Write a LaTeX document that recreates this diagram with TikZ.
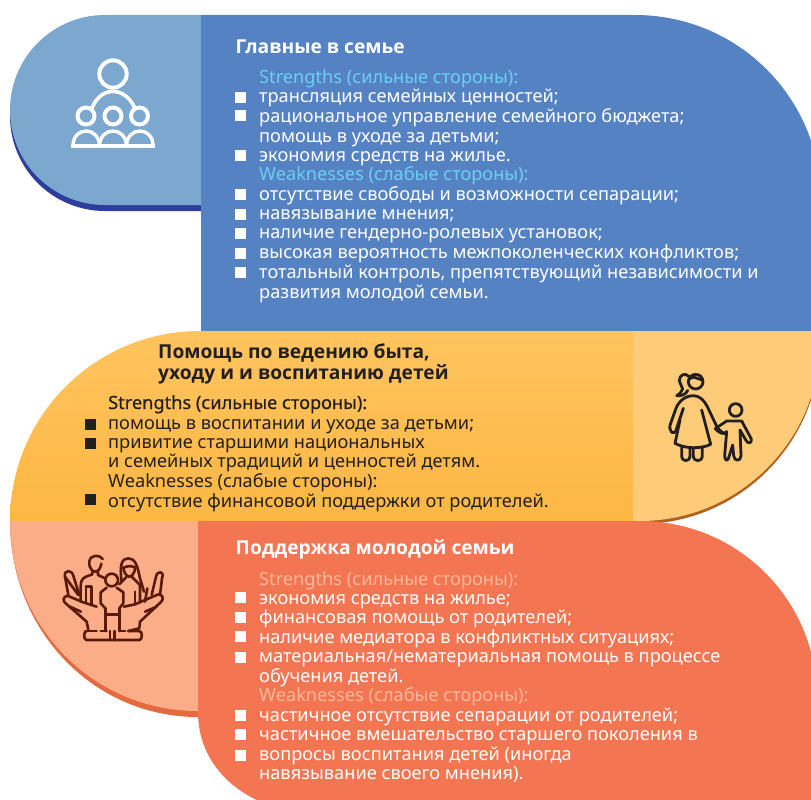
\documentclass[tikz,border=0pt]{standalone}
\usepackage{fontspec}
\setmainfont{Noto Sans}
\newfontfamily\ttlfont{Open Sans}
\newfontfamily\medfont[FakeBold=0.5]{Noto Sans}
\definecolor{blueL}{HTML}{7CA7CF}
\definecolor{blueD}{HTML}{5482C3}
\definecolor{blueS}{HTML}{2E3D9C}
\definecolor{blueT}{HTML}{6CCFF2}
\definecolor{orT}{HTML}{FFC45F}
\definecolor{orB}{HTML}{FDB743}
\definecolor{orL}{HTML}{FECC79}
\definecolor{orS}{HTML}{B0601F}
\definecolor{redD}{HTML}{F47552}
\definecolor{redL}{HTML}{FAAD87}
\definecolor{redS}{HTML}{E56A40}
\definecolor{redT}{HTML}{FBB89A}
\definecolor{ink}{HTML}{231F20}
\definecolor{brownI}{HTML}{5A1A0A}
\tikzset{
 txt/.style={anchor=base west,inner sep=0pt,font=\fontsize{18.2}{20}\selectfont},
 ttl/.style={anchor=base west,inner sep=0pt,font=\ttlfont\fontsize{19.2}{21}\selectfont\bfseries},
 bul/.style={inner sep=0pt,minimum size=11pt,fill=#1,draw=none},
 ico/.style={line cap=round,line join=round,fill=none},
}
\begin{document}
\begin{tikzpicture}[x=1pt,y=-1pt]
\useasboundingbox (0,0) rectangle (811,800);
\clip (0,0) rectangle (811,800);
% blue band
\fill[blueS] (201,211) -- (105,211) .. controls (52.5,211) and (10,168.5) .. (10,116) -- (201,116) -- cycle;
\fill[blueL] (201,15) -- (105,15) .. controls (52.5,15) and (10,57.5) .. (10,110) .. controls (10,162.5) and (52.5,205) .. (105,205) -- (201,205) -- cycle;
\fill[blueD] (201,15) -- (635,15) .. controls (738,15) and (821,98) .. (821,201) -- (821,331) -- (201,331) -- cycle;
% orange band
\fill[orS] (633,334) -- (820,334) -- (820,344) .. controls (820,443) and (739,524) .. (640,524) -- (633,524) -- cycle;
\shade[top color=orT,bottom color=orB] (10,521) .. controls (10,416) and (95,331) .. (200,331) -- (633,331) -- (633,521) -- cycle;
\fill[orL] (633,331) -- (820,331) -- (820,341) .. controls (820,440) and (739,521) .. (640,521) -- (633,521) -- cycle;
% red band
\fill[redS] (10,521) .. controls (10,630) and (93,717) .. (198,717) -- (198,521) -- cycle;
\fill[redL] (10,521) .. controls (10,626) and (93,711) .. (198,711) -- (198,521) -- cycle;
\fill[redD] (198,521) -- (640,521) .. controls (738,521) and (817,600) .. (817,698) -- (817,810) -- (285,810) .. controls (232,797) and (198,760) .. (198,712) -- cycle;
% group icon
\begin{scope}[ico,draw=white,line width=4pt]
\draw (113,74) circle[radius=13.7];
\draw[line width=3.6pt] (92,108) .. controls (97,96) and (105,91.5) .. (113,91.5) .. controls (121,91.5) and (129,96) .. (135,108);
\draw (86,116) circle[radius=8.5];
\draw (113,116) circle[radius=8.5];
\draw (139.5,116) circle[radius=8.5];
\draw[line width=3.4pt,line cap=butt] (71,146) -- (155,146);
\draw[line width=3.4pt] (73,146) .. controls (73,126) and (99,126) .. (99.5,146);
\draw[line width=3.4pt] (99.5,146) .. controls (100,126) and (126,126) .. (126.5,146);
\draw[line width=3.4pt] (126.5,146) .. controls (127,126) and (153,126) .. (153,146);
\end{scope}
% mother and child icon
\begin{scope}[shift={(660,365)},x=1/3*1pt,y=-1/3*1pt,ico,draw=ink,line width=2.8pt]
\draw (107,50) circle[radius=22];
\draw (88,42) .. controls (100,30) and (112,42) .. (127,45);
\draw (88,35) .. controls (75,22) and (58,28) .. (58,48) .. controls (58,58) and (68,62) .. (68,72) .. controls (66,82) and (56,88) .. (50,92) .. controls (62,93) and (78,90) .. (83,76);
\draw (35,202) .. controls (28,195) and (28,185) .. (32,175) -- (48,130) .. controls (60,100) and (85,92) .. (100,92) .. controls (118,92) and (132,105) .. (142,125) -- (172,188) .. controls (178,196) and (185,200) .. (192,206);
\draw (35,202) .. controls (44,205) and (48,200) .. (50,190) -- (70,130);
\draw (60,165) -- (45,235) .. controls (75,252) and (125,252) .. (152,238) -- (125,135);
\draw (65,248) -- (65,272) .. controls (65,292) and (90,292) .. (90,272) -- (90,250);
\draw (100,250) -- (100,272) .. controls (100,292) and (127,292) .. (127,272) -- (127,248);
\draw (227,135) circle[radius=19];
\draw (170,188) -- (200,168) -- (245,168) -- (274,222) .. controls (276,235) and (264,238) .. (258,226) -- (240,195) -- (243,272) .. controls (243,290) and (222,290) .. (221,272) -- (218,240) -- (208,272) .. controls (205,290) and (194,290) .. (194,272) -- (200,200) .. controls (190,210) and (178,205) .. (165,190);
\end{scope}
% family in hands icon
\begin{scope}[shift={(60,545)},x=1/3*1pt,y=-1/3*1pt,ico,draw=brownI,line width=2.6pt]
\draw (128,42) .. controls (120,28) and (90,28) .. (88,50) .. controls (86,72) and (100,80) .. (106,80) .. controls (116,80) and (122,68) .. (124,56);
\draw (97,80) -- (97,88) -- (78,95) .. controls (66,100) and (62,110) .. (62,125) -- (62,170);
\draw (114,80) -- (114,90) -- (135,100);
\draw (78,125) -- (95,125) -- (95,178);
\draw (78,125) -- (78,170);
\draw (55,150) -- (15,95) .. controls (10,75) and (35,72) .. (40,92) -- (58,150);
\draw (15,95) -- (25,150);
\draw (155,105) circle[radius=19];
\draw (140,128) -- (122,142) -- (122,175) -- (136,190);
\draw (170,128) -- (190,142) -- (190,175) -- (178,190);
\draw (136,190) -- (136,258);
\draw (178,190) -- (178,258);
\draw (136,208) -- (178,208);
\draw (150,258) -- (150,285);
\draw (164,258) -- (164,285);
\draw (122,258) -- (140,258);
\draw (178,258) -- (196,258);
\draw (76,258) -- (110,258);
\draw (185,110) .. controls (178,60) and (185,40) .. (205,40) .. controls (225,40) and (232,60) .. (240,100) -- (252,140);
\draw (190,68) .. controls (205,62) and (215,62) .. (226,68);
\draw (190,68) .. controls (192,88) and (204,95) .. (208,95) .. controls (212,95) and (224,88) .. (226,68);
\draw (200,95) -- (178,118);
\draw (215,95) -- (240,120) -- (240,170);
\draw (225,140) -- (225,178);
\draw (275,150) -- (288,95) .. controls (292,75) and (315,78) .. (306,100) -- (300,150);
\draw (262,130) -- (255,170);
\draw (192,185) -- (225,178) -- (295,148) .. controls (310,148) and (312,165) .. (302,172) -- (240,230) -- (238,250) -- (205,258);
\draw (110,185) -- (70,172) -- (22,152) .. controls (8,155) and (8,170) .. (18,176) -- (80,230) -- (85,255);
\draw (30,185) -- (63,200);
\draw (290,185) -- (255,200);
\draw (80,258) .. controls (70,258) and (70,285) .. (80,285) -- (238,285) .. controls (248,285) and (248,258) .. (238,258) -- (205,258);
\end{scope}
% blue text
\node[ttl,white] (t1) at (235.5,53) {Главные в семье};
\node[txt,blueT] (a0) at (259,83) {Strengths (сильные стороны):};
\node[txt,white] (a1) at (259,102) {трансляция семейных ценностей;};
\node[txt,white] (a2) at (259,122) {рациональное управление семейного бюджета;};
\node[txt,white] (a3) at (259,142) {помощь в уходе за детьми;};
\node[txt,white] (a4) at (259,161) {экономия средств на жилье.};
\node[txt,blueT] (a5) at (259,180) {Weaknesses (слабые стороны):};
\node[txt,white] (a6) at (259,200) {отсутствие свободы и возможности сепарации;};
\node[txt,white] (a7) at (259,219) {навязывание мнения;};
\node[txt,white] (a8) at (259,238) {наличие гендерно-ролевых установок;};
\node[txt,white] (a9) at (259,258) {высокая вероятность межпоколенческих конфликтов;};
\node[txt,white] (a10) at (259,278) {тотальный контроль, препятствующий независимости и};
\node[txt,white] (a11) at (259,298) {развития молодой семьи.};
\node[bul=white] (ba1) at (240.5,97) {};
\node[bul=white] (ba2) at (240.5,115) {};
\node[bul=white] (ba3) at (240.5,155) {};
\node[bul=white] (ba4) at (240.5,194) {};
\node[bul=white] (ba5) at (240.5,214) {};
\node[bul=white] (ba6) at (240.5,233) {};
\node[bul=white] (ba7) at (240.5,253) {};
\node[bul=white] (ba8) at (240.5,272) {};
% orange text
\node[ttl,ink] (t2a) at (158,358) {Помощь по ведению быта,};
\node[ttl,ink] (t2b) at (158,379) {уходу и и воспитанию детей};
\node[txt,ink] (b0) at (108,409) {\medfont Strengths (сильные стороны):};
\node[txt,ink] (b1) at (108,429) {помощь в воспитании и уходе за детьми;};
\node[txt,ink] (b2) at (108,448) {привитие старшими национальных};
\node[txt,ink] (b3) at (108,467) {и семейных традиций и ценностей детям.};
\node[txt,ink] (b4) at (108,487) {Weaknesses (слабые стороны):};
\node[txt,ink] (b5) at (108,507) {отсутствие финансовой поддержки от родителей.};
\node[bul=ink] (bb1) at (90.5,424) {};
\node[bul=ink] (bb2) at (90.5,443) {};
\node[bul=ink] (bb3) at (90.5,499) {};
% red text
\node[ttl,white] (t3) at (235.5,554) {Поддержка молодой семьи};
\node[txt,redT] (c0) at (259,585) {Strengths (сильные стороны):};
\node[txt,white] (c1) at (259,604) {экономия средств на жилье;};
\node[txt,white] (c2) at (259,623) {финансовая помощь от родителей;};
\node[txt,white] (c3) at (259,643) {наличие медиатора в конфликтных ситуациях;};
\node[txt,white] (c4) at (259,662) {материальная/нематериальная помощь в процессе};
\node[txt,white] (c5) at (259,682) {обучения детей.};
\node[txt,redT] (c6) at (259,701) {Weaknesses (слабые стороны):};
\node[txt,white] (c7) at (259,721) {частичное отсутствие сепарации от родителей;};
\node[txt,white] (c8) at (259,740) {частичное вмешательство старшего поколения в};
\node[txt,white] (c9) at (259,760) {вопросы воспитания детей (иногда};
\node[txt,white] (c10) at (259,779) {навязывание своего мнения).};
\node[bul=white] (bc1) at (240.5,597) {};
\node[bul=white] (bc2) at (240.5,617) {};
\node[bul=white] (bc3) at (240.5,636) {};
\node[bul=white] (bc4) at (240.5,657) {};
\node[bul=white] (bc5) at (240.5,715) {};
\node[bul=white] (bc6) at (240.5,734) {};
\node[bul=white] (bc7) at (240.5,755) {};
\end{tikzpicture}
\end{document}
